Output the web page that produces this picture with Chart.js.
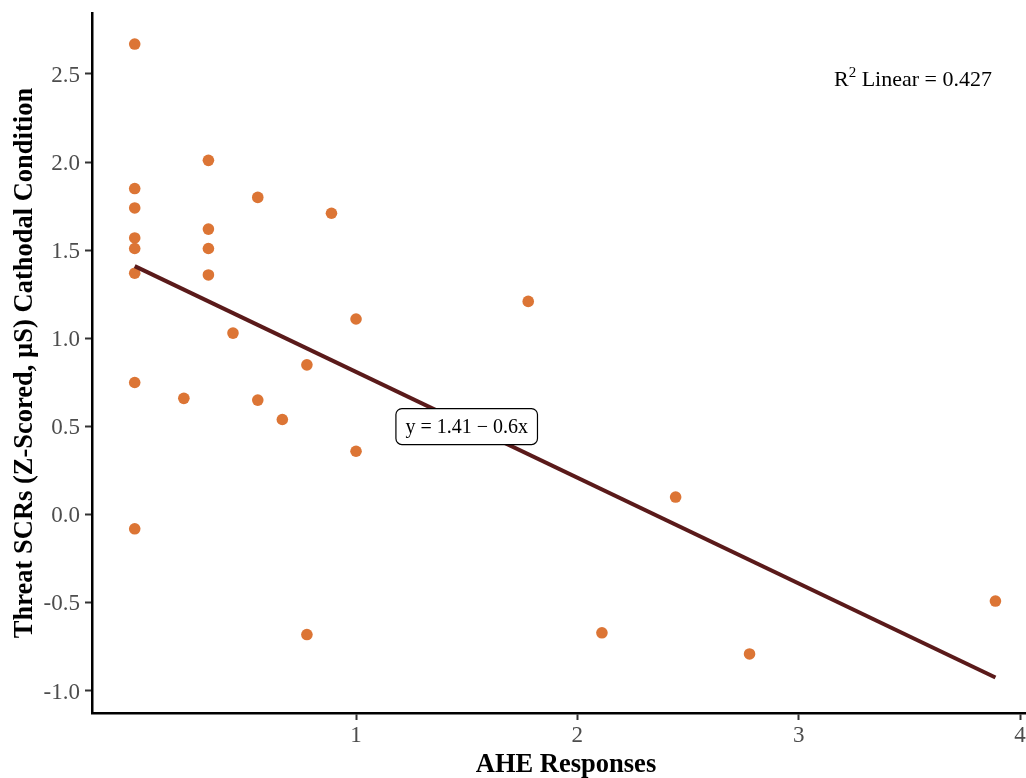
<!DOCTYPE html>
<html>
<head>
<meta charset="utf-8">
<script src="https://cdn.jsdelivr.net/npm/chart.js@4/dist/chart.umd.min.js"></script>
<style>
html,body{margin:0;padding:0;background:#fff;overflow:hidden;width:1026px;height:778px;}
#c{display:block;}
</style>
</head>
<body>
<canvas id="c" width="1032" height="778"></canvas>
<script>
// AHE responses (x) and threat SCRs (y)
const aheResponses = [0, 0, 0, 0, 0, 0, 0, 0,
  0.222, 0.333, 0.333, 0.333, 0.333, 0.444, 0.556, 0.556, 0.667,
  0.778, 0.778, 0.889, 1.0, 1.0, 1.778, 2.111, 2.444, 2.778, 3.889];
const threatSCRs = [2.67, 1.85, 1.74, 1.57, 1.51, 1.37, 0.75, -0.08,
  0.66, 2.01, 1.62, 1.51, 1.36, 1.03, 1.80, 0.65, 0.54,
  0.85, -0.68, 1.71, 1.11, 0.36, 1.21, -0.67, 0.10, -0.79, -0.49];
const fitIntercept = 1.41;
const fitSlope = -0.6;
const fitXRange = [0, 3.889];
const xTickValues = [1, 2, 3, 4];
const yTickValues = [-1.0, -0.5, 0.0, 0.5, 1.0, 1.5, 2.0, 2.5];
const equationLabel = "y = 1.41 \u2212 0.6x";
const equationPos = {x: 1.5, y: 0.5};
const r2Label = "0.427";
const xTitle = "AHE Responses";
const yTitle = "Threat SCRs (Z-Scored, \u00b5S) Cathodal Condition";

const points = aheResponses.map((x, i) => ({x: x, y: threatSCRs[i]}));
const fitLine = fitXRange.map(x => ({x: x, y: fitIntercept + fitSlope * x}));

const SERIF = "'Liberation Serif', 'DejaVu Serif', serif";

const annotPlugin = {
  id: 'annot',
  afterDatasetsDraw(chart) {
    const ctx = chart.ctx;
    const xs = chart.scales.x, ys = chart.scales.y;
    // equation box
    const cx = xs.getPixelForValue(equationPos.x);
    const cy = ys.getPixelForValue(equationPos.y);
    ctx.save();
    ctx.font = "20px " + SERIF;
    const tw = ctx.measureText(equationLabel).width;
    const w = tw + 19, h = 36;
    const x0 = cx - w / 2, y0 = cy - h / 2, r = 6;
    ctx.beginPath();
    ctx.moveTo(x0 + r, y0);
    ctx.lineTo(x0 + w - r, y0);
    ctx.arcTo(x0 + w, y0, x0 + w, y0 + r, r);
    ctx.lineTo(x0 + w, y0 + h - r);
    ctx.arcTo(x0 + w, y0 + h, x0 + w - r, y0 + h, r);
    ctx.lineTo(x0 + r, y0 + h);
    ctx.arcTo(x0, y0 + h, x0, y0 + h - r, r);
    ctx.lineTo(x0, y0 + r);
    ctx.arcTo(x0, y0, x0 + r, y0, r);
    ctx.closePath();
    ctx.fillStyle = '#ffffff';
    ctx.fill();
    ctx.lineWidth = 1.2;
    ctx.strokeStyle = '#000000';
    ctx.stroke();
    ctx.fillStyle = '#000000';
    ctx.textAlign = 'center';
    ctx.textBaseline = 'middle';
    ctx.fillText(equationLabel, cx, cy + 1);
    ctx.restore();

    // R^2 label
    ctx.save();
    ctx.fillStyle = '#000000';
    ctx.textBaseline = 'alphabetic';
    ctx.textAlign = 'left';
    const big = "22px " + SERIF, small = "15px " + SERIF;
    ctx.font = big;
    const wR = ctx.measureText("R").width;
    const rest = " Linear = " + r2Label;
    const wRest = ctx.measureText(rest).width;
    ctx.font = small;
    const w2 = ctx.measureText("2").width;
    const total = wR + w2 + wRest;
    const centerX = 913, base = 86;
    let px = centerX - total / 2;
    ctx.font = big;
    ctx.fillText("R", px, base);
    px += wR;
    ctx.font = small;
    ctx.fillText("2", px, base - 9);
    px += w2;
    ctx.font = big;
    ctx.fillText(rest, px, base);
    ctx.restore();

    // x-axis title (panel in the original extends past the right edge)
    ctx.save();
    ctx.fillStyle = '#000000';
    ctx.font = "bold 26.5px " + SERIF;
    ctx.textAlign = 'center';
    ctx.textBaseline = 'middle';
    ctx.fillText(xTitle, 566, 765);
    ctx.restore();
  }
};

new Chart(document.getElementById('c'), {
  type: 'scatter',
  data: {
    datasets: [
      {
        type: 'line',
        data: fitLine,
        borderColor: '#5a1a1a',
        borderWidth: 4,
        pointRadius: 0,
        fill: false,
        order: 1
      },
      {
        data: points,
        backgroundColor: '#dc7535',
        borderColor: '#dc7535',
        borderWidth: 0,
        pointRadius: 5.8,
        pointHoverRadius: 5.8,
        order: 2
      }
    ]
  },
  options: {
    responsive: false,
    animation: false,
    devicePixelRatio: 1,
    layout: {padding: {top: 13, right: 0, left: 0, bottom: 0}},
    plugins: {legend: {display: false}, tooltip: {enabled: false}},
    scales: {
      x: {
        type: 'linear',
        min: -0.193,
        max: 4.028,
        afterBuildTicks(s) { s.ticks = xTickValues.map(v => ({value: v})); },
        afterFit(s) { s.height = 65; },
        ticks: {
          color: '#4d4d4d',
          font: {family: SERIF, size: 23},
          padding: 2,
          maxRotation: 0,
          autoSkip: false,
          callback: v => String(v)
        },
        grid: {display: true, drawOnChartArea: false, drawTicks: true, tickLength: 7, tickWidth: 2, tickColor: '#333333'},
        border: {display: true, color: '#000000', width: 2.5},
        title: {display: false}
      },
      y: {
        type: 'linear',
        min: -1.125,
        max: 2.846,
        afterBuildTicks(s) { s.ticks = yTickValues.map(v => ({value: v})); },
        afterFit(s) { s.width = 92; s.paddingTop = 0; s.paddingBottom = 0; },
        ticks: {
          color: '#4d4d4d',
          font: {family: SERIF, size: 23},
          padding: 5,
          labelOffset: 1.5,
          autoSkip: false,
          callback: v => Number(v).toFixed(1)
        },
        grid: {display: true, drawOnChartArea: false, drawTicks: true, tickLength: 7, tickWidth: 2, tickColor: '#333333'},
        border: {display: true, color: '#000000', width: 2.5},
        title: {display: true, text: yTitle, color: '#000000', font: {family: SERIF, size: 26.5, weight: 'bold', lineHeight: 1.2}, padding: {top: 9, bottom: 0}}
      }
    }
  },
  plugins: [annotPlugin]
});
</script>
</body>
</html>
